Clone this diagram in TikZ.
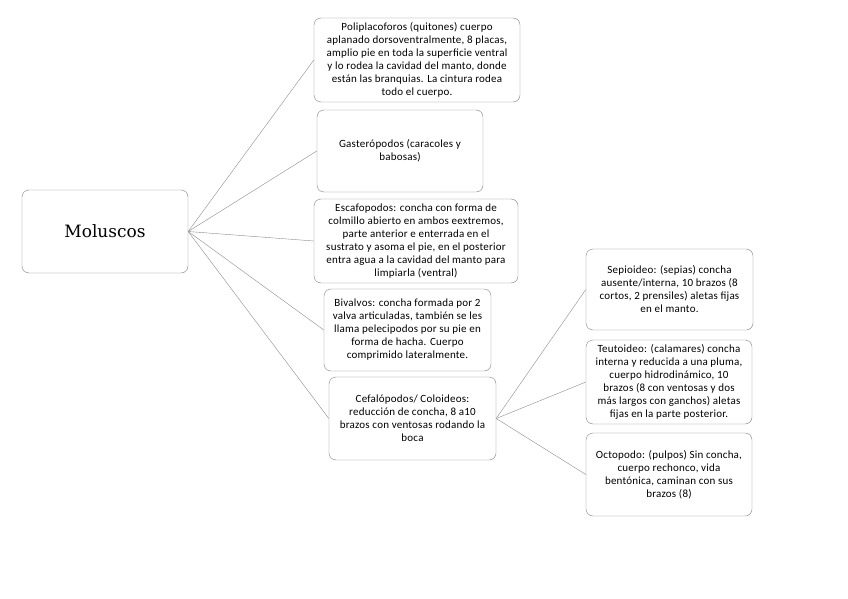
\documentclass[tikz,border=0pt]{standalone}
\usepackage{fontspec}
\setmainfont[LetterSpace=2]{Carlito}
\newfontfamily\titlefont{DejaVu Serif}
\usetikzlibrary{positioning}

\begin{document}
\begin{tikzpicture}[
  x=1pt, y=-1pt,
  box/.style={draw=gray, rounded corners=7pt, align=center, inner sep=2pt,
    font=\fontsize{11}{13}\selectfont},
  link/.style={gray!90, thin}
]
\useasboundingbox (0,0) rectangle (848,599);
\node[box, minimum width=166pt, minimum height=83pt, font=\titlefont\fontsize{17}{19}\selectfont] (mol) at (105,231.5) {Moluscos};
\node[box, minimum width=206pt, minimum height=84pt] (poli) at (417,60) {Poliplacoforos (quitones) cuerpo\\aplanado dorsoventralmente, 8 placas,\\amplio pie en toda la superficie ventral\\y lo rodea la cavidad del manto, donde\\están las branquias. La cintura rodea\\todo el cuerpo.};
\node[box, minimum width=166pt, minimum height=82pt] (gast) at (400,151) {Gasterópodos (caracoles y\\babosas)};
\node[box, minimum width=204pt, minimum height=84pt] (esca) at (416,241) {Escafopodos: concha con forma de\\colmillo abierto en ambos eextremos,\\parte anterior e enterrada en el\\sustrato y asoma el pie, en el posterior\\entra agua a la cavidad del manto para\\limpiarla (ventral)};
\node[box, minimum width=167pt, minimum height=82pt] (biva) at (407.5,330) {Bivalvos: concha formada por 2\\valva articuladas, también se les\\llama pelecipodos por su pie en\\forma de hacha. Cuerpo\\comprimido lateralmente.};
\node[box, minimum width=167pt, minimum height=83pt] (cefa) at (412.5,418.5) {Cefalópodos/ Coloideos:\\reducción de concha, 8 a10\\brazos con ventosas rodando la\\boca};
\node[box, minimum width=167pt, minimum height=81pt] (sepi) at (669.5,289.5) {Sepioideo: (sepias) concha\\ausente/interna, 10 brazos (8\\cortos, 2 prensiles) aletas fijas\\en el manto.};
\node[box, minimum width=166pt, minimum height=84pt] (teut) at (669,382) {Teutoideo: (calamares) concha\\interna y reducida a una pluma,\\cuerpo hidrodinámico, 10\\brazos (8 con ventosas y dos\\más largos con ganchos) aletas\\fijas en la parte posterior.};
\node[box, minimum width=166pt, minimum height=83pt] (octo) at (669,474.5) {Octopodo: (pulpos) Sin concha,\\cuerpo rechonco, vida\\bentónica, caminan con sus\\brazos (8)};
% ramas
\foreach \n in {poli,gast,esca,biva,cefa}
  \draw[link] (mol.east) -- (\n.west);
\foreach \n in {sepi,teut,octo}
  \draw[link] (cefa.east) -- (\n.west);
\end{tikzpicture}
\end{document}
